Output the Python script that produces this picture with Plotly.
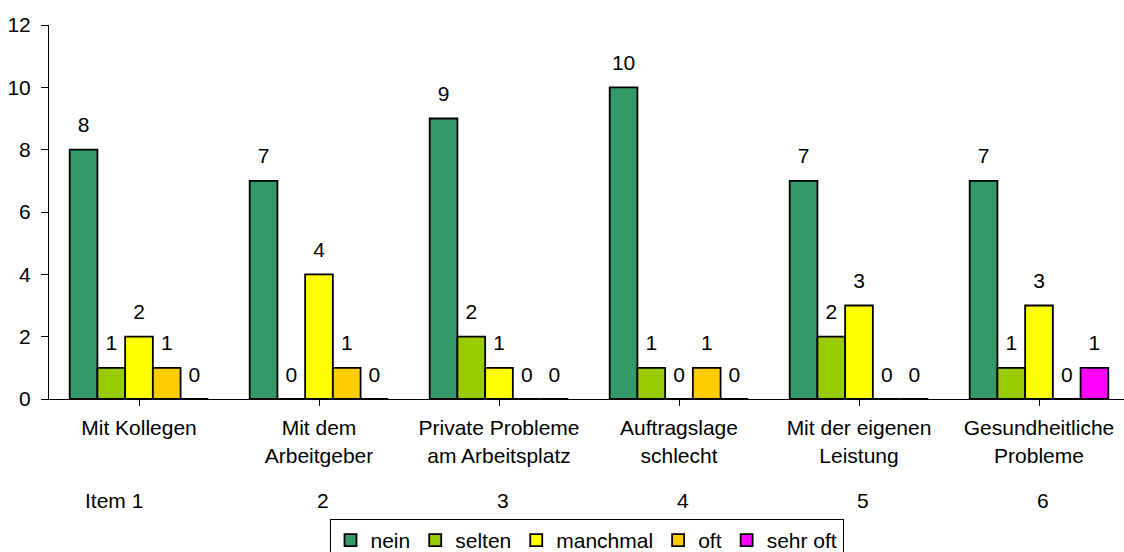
import plotly.graph_objects as go

categories = [
    "Mit Kollegen",
    "Mit dem<br>Arbeitgeber",
    "Private Probleme<br>am Arbeitsplatz",
    "Auftragslage<br>schlecht",
    "Mit der eigenen<br>Leistung",
    "Gesundheitliche<br>Probleme",
]
item_labels = ["Item 1", "2", "3", "4", "5", "6"]

series_names = ["nein", "selten", "manchmal", "oft", "sehr oft"]
nein = [8, 7, 9, 10, 7, 7]
selten = [1, 0, 2, 1, 2, 1]
manchmal = [2, 4, 1, 0, 3, 3]
oft = [1, 1, 0, 1, 0, 0]
sehr_oft = [0, 0, 0, 0, 0, 1]
series_values = [nein, selten, manchmal, oft, sehr_oft]
colors = ["#339966", "#99CC00", "#FFFF00", "#FFCC00", "#FF00FF"]

FONT = "Liberation Sans, Arial, sans-serif"
FS = 21

x_idx = list(range(len(categories)))

fig = go.Figure()

for name, vals, col in zip(series_names, series_values, colors):
    fig.add_trace(go.Bar(
        name=name,
        x=x_idx,
        y=vals,
        marker=dict(color=col, line=dict(color="black", width=1.8)),
        hoverinfo="skip",
    ))

# value labels, grouped the same way as the bars
for name, vals in zip(series_names, series_values):
    fig.add_trace(go.Scatter(
        x=x_idx,
        y=vals,
        mode="markers+text",
        text=[str(v) for v in vals],
        textposition="top center",
        textfont=dict(family=FONT, size=FS, color="black"),
        marker=dict(size=18, opacity=0),
        showlegend=False,
        hoverinfo="skip",
        cliponaxis=False,
    ))

for i, lab in enumerate(item_labels):
    fig.add_annotation(
        x=i, xref="x", y=0, yref="paper",
        yanchor="middle", yshift=-101,
        xshift=-25 if i == 0 else 4,
        text=lab, showarrow=False,
        font=dict(family=FONT, size=FS, color="black"),
    )

fig.update_layout(
    width=1124,
    height=552,
    margin=dict(l=49, r=0, t=25, b=153),
    paper_bgcolor="white",
    plot_bgcolor="white",
    barmode="group",
    bargap=0.23,
    bargroupgap=0,
    scattermode="group",
    scattergap=0.23,
    font=dict(family=FONT, size=FS, color="black"),
    showlegend=True,
    legend=dict(
        orientation="h",
        x=0.5, xanchor="center",
        yref="container", y=1 - 519 / 552, yanchor="top",
        bordercolor="black", borderwidth=1,
        bgcolor="white",
        font=dict(family=FONT, size=FS, color="black"),
        traceorder="normal",
    ),
    xaxis=dict(
        range=[-0.5, -0.5 + 1075 / 180],
        tickmode="array",
        tickvals=x_idx,
        ticktext=categories,
        tickson="boundaries",
        ticks="outside",
        ticklen=6,
        tickcolor="black",
        showline=True,
        linecolor="black",
        linewidth=1,
        showgrid=False,
        zeroline=False,
        ticklabelstandoff=4,
        fixedrange=True,
    ),
    yaxis=dict(
        range=[0, 12],
        dtick=2,
        ticks="outside",
        ticklen=7,
        tickcolor="black",
        showline=True,
        linecolor="black",
        linewidth=1,
        showgrid=False,
        zeroline=False,
        ticklabelstandoff=6,
        fixedrange=True,
    ),
)

fig.write_html("out.html")
